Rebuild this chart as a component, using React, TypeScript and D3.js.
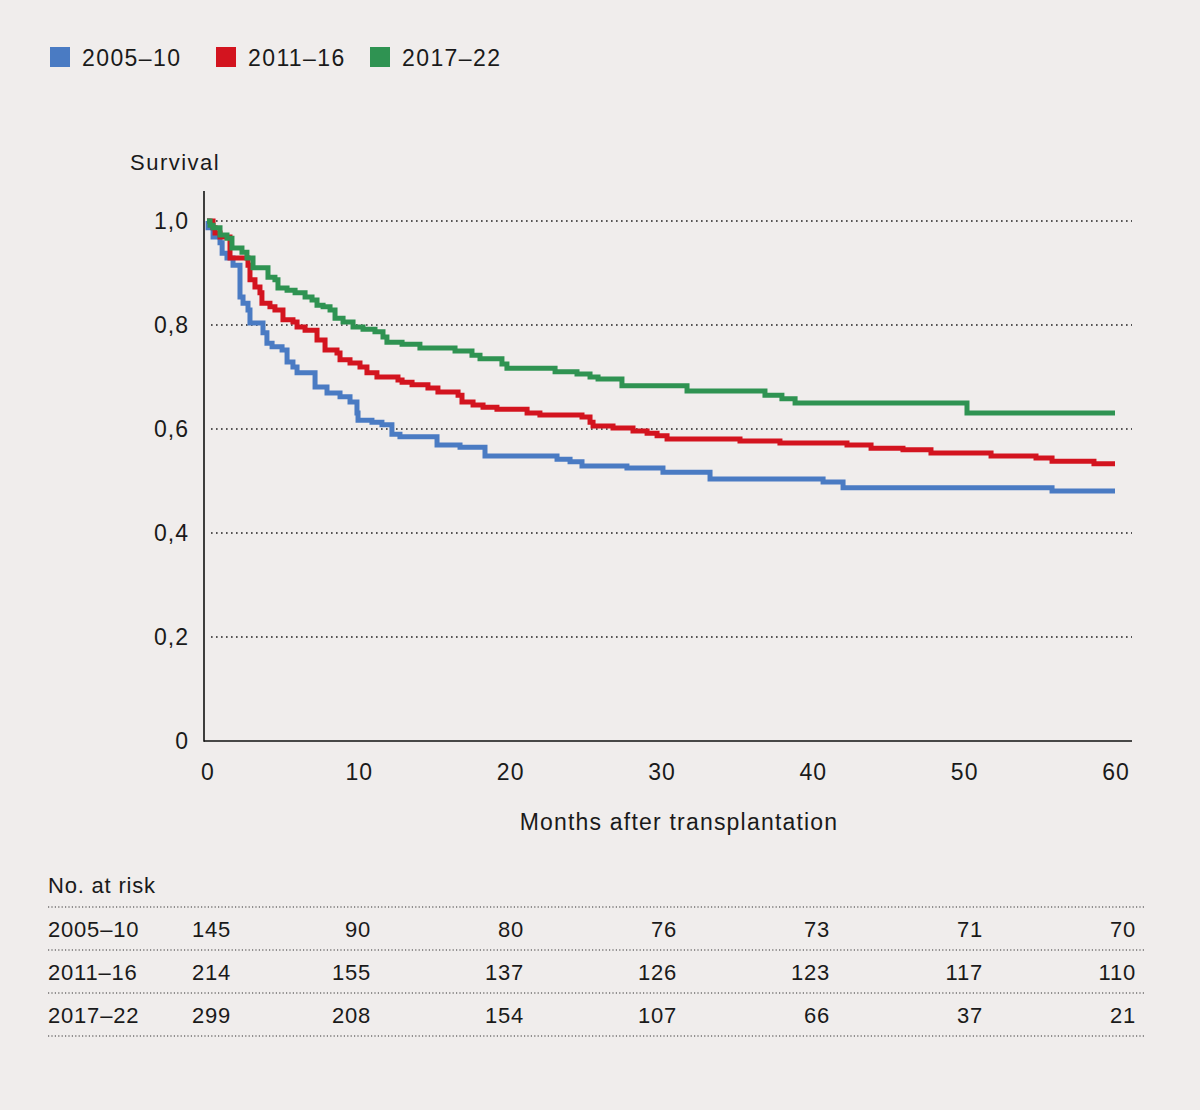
import React, { useEffect } from 'react';
import * as d3 from 'd3';

// Kaplan-Meier steps: month of each drop and survival after it
const months0510 = [0, 0.07, 0.4, 0.86, 1.0, 1.32, 1.72, 2.18, 2.38, 2.71, 2.84, 3.7, 3.96, 4.3, 4.96, 5.29, 5.68, 5.95, 7.14, 7.93, 8.79, 9.45, 9.91, 9.98, 10.9, 11.56, 12.22, 12.75, 15.2, 16.72, 18.37, 23.13, 23.99, 24.78, 27.75, 30.13, 33.24, 40.71, 42.03, 55.84];
const surv0510 = [1, 0.987, 0.969, 0.958, 0.938, 0.929, 0.915, 0.854, 0.842, 0.829, 0.804, 0.785, 0.765, 0.758, 0.752, 0.729, 0.719, 0.708, 0.681, 0.669, 0.662, 0.652, 0.631, 0.617, 0.613, 0.608, 0.59, 0.585, 0.569, 0.565, 0.548, 0.542, 0.537, 0.529, 0.525, 0.517, 0.504, 0.498, 0.487, 0.481];

const months1116 = [0, 0.4, 0.53, 0.86, 1.52, 2.71, 2.84, 3.17, 3.5, 3.63, 4.16, 4.49, 5.02, 5.68, 5.95, 6.48, 7.27, 7.8, 8.59, 8.79, 9.45, 10.11, 10.57, 11.23, 12.62, 12.89, 13.55, 14.6, 15.26, 16.59, 16.85, 17.58, 18.24, 19.16, 21.15, 22.0, 24.78, 25.31, 25.51, 26.83, 28.15, 29.08, 29.74, 30.4, 35.22, 37.86, 42.29, 43.88, 45.99, 47.84, 51.81, 54.78, 55.84, 58.61];
const surv1116 = [1, 0.987, 0.977, 0.969, 0.929, 0.915, 0.887, 0.873, 0.862, 0.842, 0.835, 0.829, 0.81, 0.806, 0.796, 0.79, 0.771, 0.752, 0.746, 0.733, 0.727, 0.719, 0.708, 0.7, 0.694, 0.69, 0.685, 0.679, 0.671, 0.665, 0.652, 0.646, 0.642, 0.638, 0.631, 0.627, 0.623, 0.613, 0.606, 0.602, 0.596, 0.592, 0.587, 0.581, 0.577, 0.573, 0.569, 0.563, 0.56, 0.554, 0.548, 0.544, 0.538, 0.533];

const months1722 = [0, 0.2, 0.4, 0.86, 1.32, 1.65, 2.31, 2.64, 3.04, 4.03, 4.49, 4.69, 5.29, 5.82, 6.48, 6.94, 7.27, 7.67, 8.13, 8.46, 8.99, 9.65, 10.31, 11.1, 11.63, 11.89, 12.89, 14.07, 16.39, 17.51, 18.04, 19.49, 19.82, 23.0, 24.45, 25.31, 25.84, 27.42, 31.72, 36.87, 37.99, 38.86, 50.22];
const surv1722 = [1, 0.992, 0.987, 0.973, 0.967, 0.948, 0.94, 0.929, 0.91, 0.892, 0.887, 0.871, 0.867, 0.862, 0.854, 0.848, 0.838, 0.835, 0.829, 0.813, 0.806, 0.796, 0.792, 0.787, 0.777, 0.767, 0.763, 0.756, 0.75, 0.742, 0.735, 0.725, 0.717, 0.71, 0.706, 0.7, 0.696, 0.683, 0.673, 0.665, 0.658, 0.65, 0.631];

const periods = ['2005–10', '2011–16', '2017–22'];
const colors = ['#4a7bc3', '#d3141f', '#2f9352'];

const xTicks = [0, 10, 20, 30, 40, 50, 60];
const yTicks = [0, 0.2, 0.4, 0.6, 0.8, 1.0];

const riskMonths = [0, 10, 20, 30, 40, 50, 60];
const risk0510 = [145, 90, 80, 76, 73, 71, 70];
const risk1116 = [214, 155, 137, 126, 123, 117, 110];
const risk1722 = [299, 208, 154, 107, 66, 37, 21];

const BG = '#f0edec';
const FONT = '"Liberation Sans", Arial, sans-serif';

export default function App() {
  useEffect(() => {
    document.body.style.margin = '0';
    document.body.style.background = BG;
  }, []);

  const W = 1200, H = 1110;
  const x = d3.scaleLinear().domain([0, 60]).range([207, 1115]);
  const y = d3.scaleLinear().domain([0, 1]).range([741, 221]);
  // the numbers-at-risk columns sit on a slightly wider grid than the axis
  const colX = d3.scaleLinear().domain([10, 60]).range([371, 1136]);
  const colRight = (m: number) => (m === 0 ? 231 : colX(m));

  const line = d3.line<[number, number]>()
    .x(d => x(d[0]))
    .y(d => y(d[1]))
    .curve(d3.curveStepAfter);

  const series = [
    { months: months0510, surv: surv0510 },
    { months: months1116, surv: surv1116 },
    { months: months1722, surv: surv1722 }
  ].map(s => {
    const pts: [number, number][] = s.months.map((m, i) => [m, s.surv[i]]);
    pts.push([60, s.surv[s.surv.length - 1]]);
    return pts;
  });

  const riskRows = [risk0510, risk1116, risk1722];
  const legendX = [50, 216, 370];
  const fmt = (v: number) => (v === 0 ? '0' : v.toFixed(1).replace('.', ','));

  return (
    <svg width={W} height={H} style={{ position: 'absolute', left: 0, top: 0, background: BG }}
         fontFamily={FONT} fill="#1a1a1a">
      <rect width={W} height={H} fill={BG} />

      {/* legend */}
      {periods.map((p, i) => (
        <g key={p}>
          <rect x={legendX[i]} y={47} width={20} height={20} fill={colors[i]} />
          <text x={legendX[i] + 32} y={66} fontSize={23} letterSpacing={1.4}>{p}</text>
        </g>
      ))}

      <text x={130} y={170} fontSize={22} letterSpacing={1.5}>Survival</text>

      {/* gridlines */}
      {yTicks.filter(t => t > 0).map(t => (
        <line key={t} x1={211} x2={1132} y1={y(t)} y2={y(t)}
              stroke="#222" strokeWidth={1.6} strokeDasharray="1.6 3.4" />
      ))}

      {/* y ticks */}
      {yTicks.map(t => (
        <text key={t} x={189} y={y(t) + 8} fontSize={23} textAnchor="end" letterSpacing={1}>{fmt(t)}</text>
      ))}

      {/* x ticks */}
      {xTicks.map(t => (
        <text key={t} x={x(t) + 1} y={780} fontSize={23} textAnchor="middle" letterSpacing={1}>{t}</text>
      ))}
      <text x={679} y={830} fontSize={23} textAnchor="middle" letterSpacing={1.2}>Months after transplantation</text>

      {/* curves */}
      {series.map((pts, i) => (
        <path key={i} d={line(pts) || ''} fill="none" stroke={colors[i]} strokeWidth={5} />
      ))}

      {/* axes */}
      <line x1={204} x2={204} y1={191} y2={741.8} stroke="#111" strokeWidth={1.6} />
      <line x1={204} x2={1132} y1={741} y2={741} stroke="#111" strokeWidth={1.6} />

      {/* numbers at risk */}
      <text x={48} y={893} fontSize={22} letterSpacing={0.8}>No. at risk</text>
      {[0, 1, 2, 3].map(i => (
        <line key={i} x1={48} x2={1146} y1={907 + i * 43} y2={907 + i * 43}
              stroke="#333" strokeWidth={1.2} strokeDasharray="1.2 2.2" />
      ))}
      {riskRows.map((row, r) => (
        <g key={r}>
          <text x={48} y={937 + r * 43} fontSize={22} letterSpacing={0.8}>{periods[r]}</text>
          {row.map((v, c) => (
            <text key={c} x={colRight(riskMonths[c])} y={937 + r * 43} fontSize={22}
                  textAnchor="end" letterSpacing={0.8}>{v}</text>
          ))}
        </g>
      ))}
    </svg>
  );
}
